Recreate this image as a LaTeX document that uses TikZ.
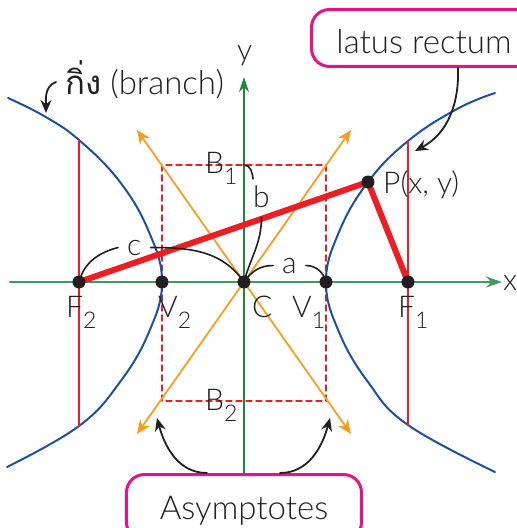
\documentclass[tikz,border=0pt]{standalone}
\usepackage{fontspec}
\setmainfont{Lato}[UprightFont=* Light]
\newfontfamily\thaifont[Script=Thai]{Loma}
\usepackage{tikz}
\usetikzlibrary{positioning,arrows.meta,calc}
\definecolor{axisgreen}{RGB}{64,155,95}
\definecolor{ygreen}{RGB}{30,135,60}
\definecolor{curveblue}{RGB}{28,80,160}
\definecolor{focusred}{RGB}{236,30,36}
\definecolor{asyorange}{RGB}{247,158,30}
\definecolor{boxmagenta}{RGB}{228,20,135}
\definecolor{inkgray}{RGB}{35,31,32}
\newcommand{\lbl}[2]{#1\raisebox{-11pt}{\fontsize{23}{23}\selectfont #2}}

\begin{document}
\begin{tikzpicture}[x=1pt, y=1pt, line cap=round,
    every node/.style={font=\fontsize{30}{31}\selectfont, text=inkgray, inner sep=0pt},
    ptdot/.style={circle, fill=inkgray, minimum size=13pt},
    pointer/.style={-{Stealth[length=13pt,width=11pt]}, inkgray, line width=1.8pt},
    asy/.style={asyorange, line width=1.8pt, {Stealth[length=14pt,width=12pt]}-{Stealth[length=14pt,width=12pt]}},
    brace/.style={inkgray, line width=1.6pt},
    callbox/.style={draw=boxmagenta, line width=3pt, rounded corners=18pt, font=\fontsize{33}{35}\selectfont}]
    \useasboundingbox (-244,-246) rectangle (273,282);
    % Points
    \coordinate (C) at (0,0);
    \coordinate (V1) at (82,0);
    \coordinate (V2) at (-82,0);
    \coordinate (F1) at (164,0);
    \coordinate (F2) at (-165,0);
    \coordinate (P) at (124,100);
    \coordinate (B1) at (0,117);
    \coordinate (B2) at (0,-119);
    % Box
    \draw[focusred, line width=1.5pt, dash pattern=on 6pt off 4pt] (V2 |- B1) rectangle (V1 |- B2);
    % Asymptotes
    \draw[asy] (-107,-152) -- (107,152);
    \draw[asy] (-107,152) -- (107,-152);
    % Callout boxes
    \node[callbox, anchor=north west, inner xsep=25pt, inner ysep=13pt, text height=31pt, text depth=0pt] (lr) at (66,274) {latus rectum};
    \node[callbox, anchor=north, minimum width=235pt, inner ysep=13pt, text height=32pt, text depth=8pt] (as) at (0,-191) {Asymptotes};
    % Axes
    \draw[axisgreen, line width=2.5pt, -{Stealth[length=16pt,width=11pt]}] (-234,0) -- (258,0);
    \draw[ygreen, line width=1.5pt, -{Stealth[length=15pt,width=10pt]}] (as.north) -- (0,205);
    \node[anchor=base west] (lx) at (259,-8) {x};
    \node[anchor=base west] (ly) at (-7,221) {y};
    % Branches
    \draw[curveblue, line width=2pt] plot[smooth, tension=0.7] coordinates {(251,189) (213,173) (164,141) (124,100) (95,50) (82,0) (95,-50) (124,-100) (164,-143) (251,-190)};
    \draw[curveblue, line width=2pt] plot[smooth, tension=0.7] coordinates {(-236,184) (-200,166) (-165,142) (-124,100) (-95,50) (-82,0) (-95,-50) (-124,-100) (-165,-144) (-237,-185)};
    % Latus rectum
    \draw[focusred, line width=2pt] ($(F1)+(0,141)$) -- ($(F1)+(0,-143)$);
    \draw[focusred, line width=2pt] ($(F2)+(0,142)$) -- ($(F2)+(0,-144)$);
    % Focal radii
    \draw[focusred, line width=6pt, line join=round] (F2) -- (P) -- (F1);
    \foreach \p in {F2,V2,C,V1,F1,P}
        \node[ptdot] at (\p) {};
    % Labels
    \node[anchor=base west] (lF2) at (-178,-35) {\lbl{F}{2}};
    \node[anchor=base west] (lV2) at (-86,-35) {\lbl{V}{2}};
    \node[anchor=base west] (lC) at (8,-35) {C};
    \node[anchor=base west] (lV1) at (48,-35) {\lbl{V}{1}};
    \node[anchor=base west] (lF1) at (154,-35) {\lbl{F}{1}};
    \node[anchor=base west] (lB1) at (-39,109) {\lbl{B}{1}};
    \node[anchor=base west] (lB2) at (-39,-128) {\lbl{B}{2}};
    \node[anchor=base west] (lP) at (139,89) {P(x, y)};
    \node[anchor=base west] (la) at (38,9) {a};
    \node[anchor=base west] (lb) at (9,75) {b};
    \node[anchor=base west] (lc) at (-117,27) {c};
    % Distance marks
    \draw[brace] (F2) to[out=75,in=195] ([xshift=-9pt]lc.west);
    \draw[brace] ([xshift=9pt]lc.east) to[out=0,in=125] (C);
    \draw[brace] (B1) to[out=0,in=95] ([yshift=6pt]lb.north west);
    \draw[brace] ([yshift=-10pt]lb.south) to[out=-90,in=75] (C);
    \draw[brace] (C) to[out=55,in=180] ([xshift=-9pt]la.west);
    \draw[brace] ([xshift=9pt]la.east) to[out=0,in=105] (V1);
    % Pointers
    \node[anchor=base west, font=\fontsize{33}{35}\selectfont] (br) at (-179,187) {{\thaifont กิ่ง} (branch)};
    \draw[pointer] ($(br.base west)+(-9,13)$) to[out=200,in=90] (-198,169);
    \draw[pointer] ($(lr.south west)+(148,0)$) to[out=-88,in=28] (171,131);
    \draw[pointer] ($(as.north)+(-37,0)$) to[out=180,in=-75] (-87,-136);
    \draw[pointer] ($(as.north)+(36,0)$) to[out=0,in=-105] (86,-136);
\end{tikzpicture}
\end{document}
